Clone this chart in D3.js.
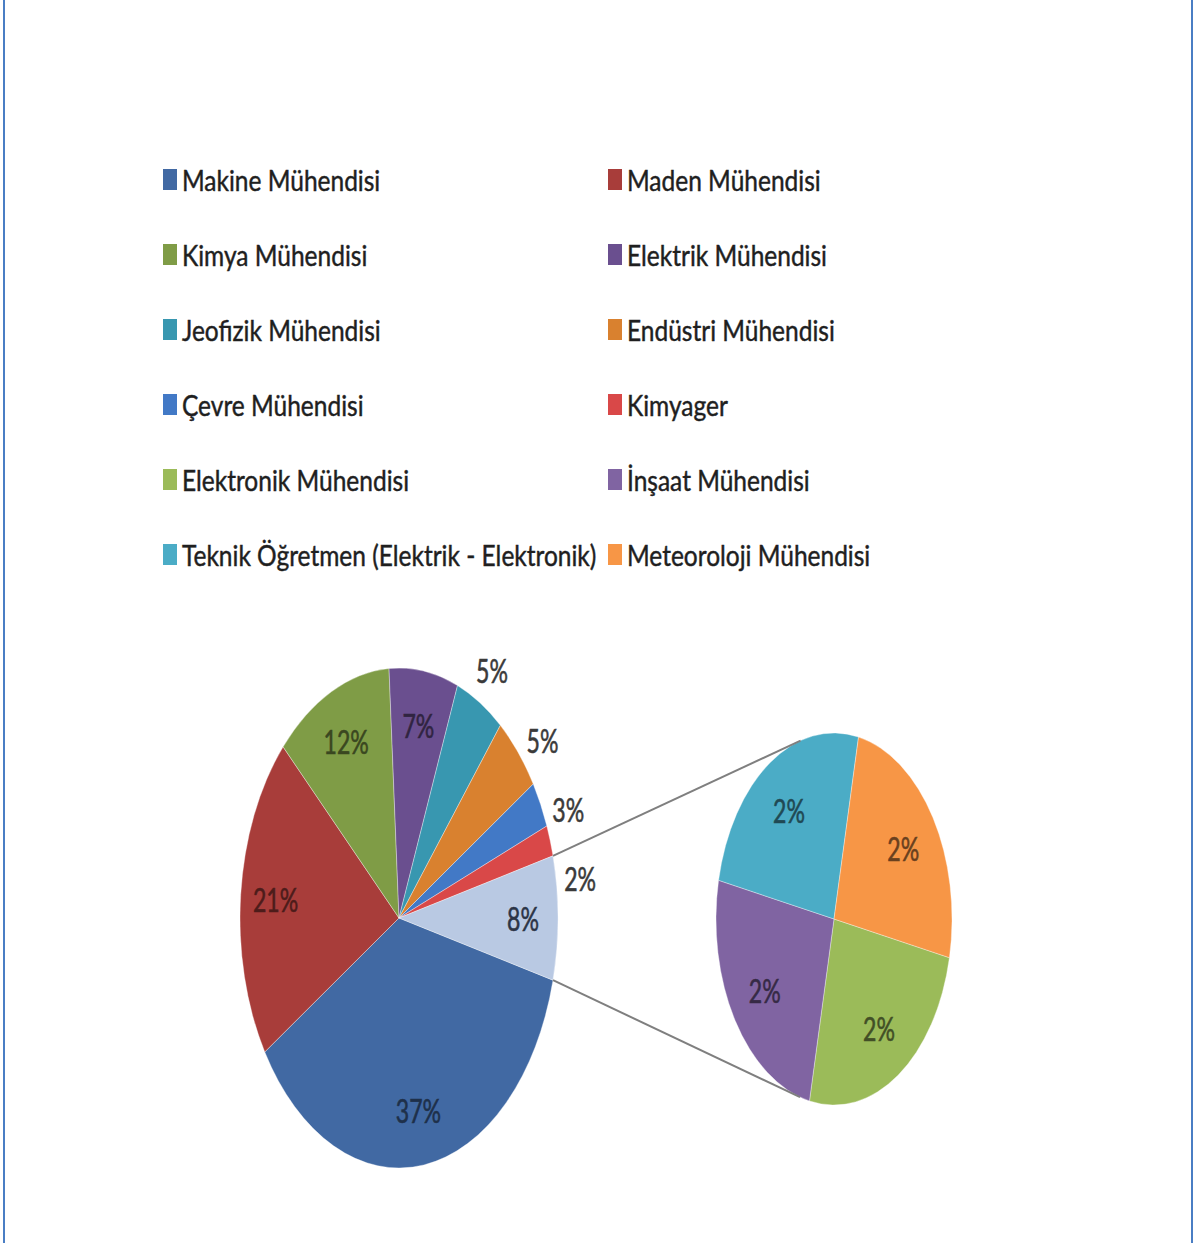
<!DOCTYPE html>
<html>
<head>
<meta charset="utf-8">
<script src="https://cdn.jsdelivr.net/npm/d3@7"></script>
<style>
  body { margin: 0; background: #ffffff; }
  svg { display: block; }
  text { font-family: Lato, "Open Sans", sans-serif; }
</style>
</head>
<body>
<svg id="chart" width="1195" height="1243"></svg>
<script>
// Main pie categories and their shares (%)
const mainCategories = [
  "Makine Mühendisi", "Maden Mühendisi", "Kimya Mühendisi", "Elektrik Mühendisi",
  "Jeofizik Mühendisi", "Endüstri Mühendisi", "Çevre Mühendisi", "Kimyager"
];
const mainValues = [37, 21, 12, 7, 5, 5, 3, 2];
const mainColors = ["#4169a3", "#a83d3a", "#7f9c46", "#6a4f8f", "#3897b0", "#d9812f", "#4279c6", "#d94848"];

// Categories grouped into the secondary pie
const secondCategories = [
  "Elektronik Mühendisi", "İnşaat Mühendisi",
  "Teknik Öğretmen (Elektrik - Elektronik)", "Meteoroloji Mühendisi"
];
const secondValues = [2, 2, 2, 2];
const secondColors = ["#9bbb59", "#8064a2", "#4bacc6", "#f79646"];

const otherColor = "#b9c9e3";

const svg = d3.select("#chart");
const W = 1195, H = 1243;

// side frame lines
svg.append("line").attr("x1", 4).attr("x2", 4).attr("y1", 0).attr("y2", H)
  .attr("stroke", "#4a7ec4").attr("stroke-width", 2);
svg.append("line").attr("x1", 1192).attr("x2", 1192).attr("y1", 0).attr("y2", H)
  .attr("stroke", "#4a7ec4").attr("stroke-width", 2);

// ---------- legend ----------
const legendNames = mainCategories.concat(secondCategories);
const legendColors = mainColors.concat(secondColors);
const legendCols = [163, 608];
const legendTop = 180, legendStep = 75;
const legend = svg.append("g");
legendNames.forEach((name, i) => {
  const col = i % 2, row = Math.floor(i / 2);
  const x = legendCols[col], y = legendTop + row * legendStep;
  legend.append("rect")
    .attr("x", x).attr("y", y - 11).attr("width", 14).attr("height", 21)
    .attr("fill", legendColors[i]);
  legend.append("text")
    .attr("transform", `translate(${x + 19},${y + 11}) scale(0.875,1)`)
    .attr("font-size", 28)
    .attr("fill", "#1f1f1f")
    .attr("stroke", "#1f1f1f")
    .attr("stroke-width", 0.45)
    .text(name);
});

// ---------- pies ----------
const mainPie = { cx: 399, cy: 918, rx: 159, ry: 250 };
const subPie = { cx: 834, cy: 919, rx: 118, ry: 186 };

const otherValue = d3.sum(secondValues);
const total = d3.sum(mainValues) + otherValue;
const mainData = mainValues.map((v, i) => ({ value: v, color: mainColors[i] }))
  .concat([{ value: otherValue, color: otherColor, other: true }]);

// the grouped slice is centred on the right side, facing the secondary pie
const mainStart = Math.PI / 2 + Math.PI * otherValue / total;
const mainArcs = d3.pie().sort(null).value(d => d.value)
  .startAngle(mainStart).endAngle(mainStart + 2 * Math.PI)(mainData);

const subRotation = 12 * Math.PI / 180;
const subStart = Math.PI / 2 + subRotation;
const subData = secondValues.map((v, i) => ({ value: v, color: secondColors[i] }));
const subArcs = d3.pie().sort(null).value(d => d.value)
  .startAngle(subStart).endAngle(subStart + 2 * Math.PI)(subData);

function drawPie(arcs, p) {
  const g = svg.append("g")
    .attr("transform", `translate(${p.cx},${p.cy}) scale(${p.rx / p.ry},1)`);
  const arc = d3.arc().innerRadius(0).outerRadius(p.ry);
  g.selectAll("path").data(arcs).join("path")
    .attr("d", arc)
    .attr("fill", d => d.data.color)
    .attr("stroke", "rgba(255,255,255,0.35)")
    .attr("stroke-width", 1)
    .attr("vector-effect", "non-scaling-stroke");
}

function pointAt(p, angle, k) {
  return [p.cx + Math.sin(angle) * k * p.rx, p.cy - Math.cos(angle) * k * p.ry];
}

// connector lines from the grouped slice edges to tangents of the secondary pie
const otherArc = mainArcs[mainArcs.length - 1];
function tangentPoint(P, upper) {
  const ux = (P[0] - subPie.cx) / subPie.rx, uy = (P[1] - subPie.cy) / subPie.ry;
  const d = Math.hypot(ux, uy), phi = Math.atan2(uy, ux), delta = Math.acos(1 / d);
  const t = upper ? phi + delta : phi - delta;
  return [subPie.cx + Math.cos(t) * subPie.rx, subPie.cy + Math.sin(t) * subPie.ry];
}
const pUp = pointAt(mainPie, otherArc.startAngle, 1);
const pDown = pointAt(mainPie, otherArc.endAngle, 1);

drawPie(mainArcs, mainPie);
drawPie(subArcs, subPie);

[[pUp, tangentPoint(pUp, true)], [pDown, tangentPoint(pDown, false)]].forEach(([a, b]) => {
  svg.append("line")
    .attr("x1", a[0]).attr("y1", a[1]).attr("x2", b[0]).attr("y2", b[1])
    .attr("stroke", "#7f7f7f").attr("stroke-width", 2);
});

// ---------- labels ----------
const labelSize = 33;
function addLabel(x, y, txt, color) {
  svg.append("text")
    .attr("transform", `translate(${x},${y}) scale(0.7,1)`)
    .attr("text-anchor", "middle")
    .attr("dominant-baseline", "central")
    .attr("font-size", labelSize)
    .attr("fill", color)
    .attr("stroke", color)
    .attr("stroke-width", 0.6)
    .text(txt);
}

// inside labels for large slices, outside labels for small ones
const outside = [];
mainArcs.forEach(d => {
  const mid = (d.startAngle + d.endAngle) / 2;
  if (d.data.value >= 7) {
    const [x, y] = pointAt(mainPie, mid, 0.78);
    const color = d.data.other ? "#2b3446" : d3.color(d.data.color).darker(2.2).formatHex();
    addLabel(x, y, d.data.value + "%", color);
  } else {
    const [x, y] = pointAt(mainPie, mid, 1.15);
    outside.push({ x, y, value: d.data.value });
  }
});

// keep outside labels from overlapping: push each one down below the previous
const outK = 1.15, minGap = labelSize * 2.1;
outside.sort((a, b) => a.y - b.y);
outside.forEach((l, i) => {
  if (i > 0 && l.y < outside[i - 1].y + minGap) l.y = outside[i - 1].y + minGap;
  const t = (l.y - mainPie.cy) / (outK * mainPie.ry);
  l.x = mainPie.cx + outK * mainPie.rx * Math.sqrt(Math.max(0, 1 - t * t));
  addLabel(l.x, l.y, l.value + "%", "#3a3a3a");
});

subArcs.forEach(d => {
  const mid = (d.startAngle + d.endAngle) / 2;
  const [x, y] = pointAt(subPie, mid, 0.7);
  addLabel(x, y, d.data.value + "%", d3.color(d.data.color).darker(2.4).formatHex());
});
</script>
</body>
</html>
